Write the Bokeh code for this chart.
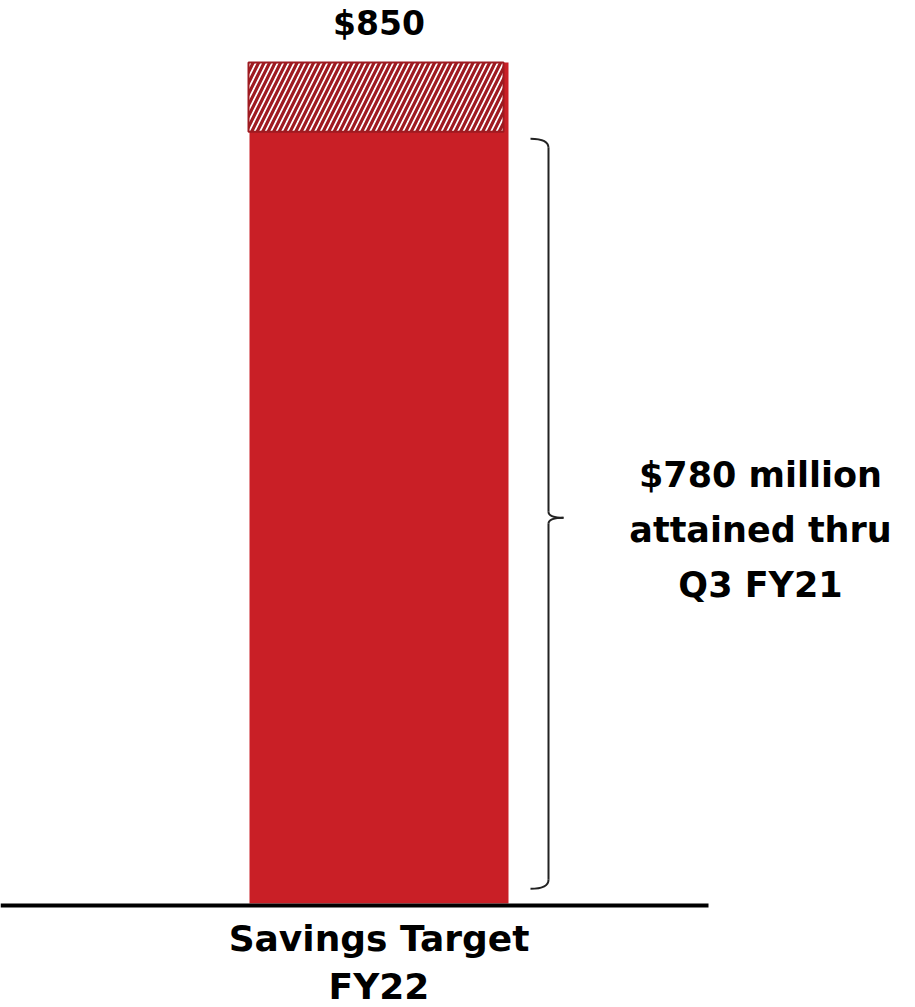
from bokeh.plotting import figure
from bokeh.models import Range1d, ColumnDataSource
from bokeh.embed import file_html
from bokeh.resources import INLINE
from bokeh.core.properties import value

# ---- data ----
categories = ["Savings Target\nFY22"]
target_values = [850]
attained_values = [780]
target_labels = ["$850"]
attained_label = ["$780 million", "attained thru", "Q3 FY21"]

W, H = 915, 1007
# layout (pixels)
BASE_PX, TOP_PX = 903, 62
BAR_CX, BAR_W = 378.5, 259
k = (BASE_PX - TOP_PX) / target_values[0]  # px per unit

def ydat(px):
    return (BASE_PX - px) / k

def xdat(px):
    return (px - BAR_CX) / BAR_W

RED = "#C91F26"
DARK = "#9E1A20"
FONT = value("DejaVu Sans")

p = figure(width=W, height=H, output_backend="svg", toolbar_location=None,
           x_range=Range1d(xdat(0), xdat(W)), y_range=Range1d(ydat(H), ydat(0)),
           min_border=0, min_border_left=0, min_border_right=0,
           min_border_top=0, min_border_bottom=0)
p.axis.visible = False
p.grid.visible = False
p.outline_line_color = None
p.background_fill_color = "white"
p.border_fill_color = "white"

xs = list(range(len(categories)))
label_gap = 39 / k  # gap between bar top and value label centre
src = ColumnDataSource(dict(x=xs, top=target_values, att=attained_values,
                            cat=categories, lab=target_labels,
                            ly=[t + label_gap for t in target_values]))

# solid bar (full target)
p.vbar(x="x", top="top", bottom=0, width=1.0, source=src,
       fill_color=RED, line_color=None)

# hatched remaining part
hsrc = ColumnDataSource(dict(x=[x - 3 / BAR_W for x in xs], top=target_values,
                             bottom=attained_values))
p.vbar(x="x", top="top", bottom="bottom", width=255 / BAR_W, source=hsrc,
       fill_color="white", line_color=DARK, line_width=2,
       hatch_pattern="/", hatch_color=DARK, hatch_scale=11, hatch_weight=3.2)

# baseline
p.segment(x0=[xdat(0)], y0=[ydat(905)], x1=[xdat(708)], y1=[ydat(905)],
          line_color="black", line_width=4)

# value label on top
p.text(x="x", y="ly", text="lab", source=src,
       text_align="center", text_baseline="middle",
       text_font=FONT, text_font_style="bold", text_font_size="33px",
       text_color="black")

# category label (two lines)
for i, line in enumerate(categories[0].split("\n")):
    p.text(x=xs, y=[ydat(938 + 48 * i)], text=[line],
           text_align="center", text_baseline="middle",
           text_font=FONT, text_font_style="bold", text_font_size="36px",
           text_color="black")

# brace spanning 0 .. attained
top_v = attained_values[0] - 7
bot_v = 15
mid_v = attained_values[0] / 2
xl, xv, xt = xdat(530), xdat(548), xdat(563)
dy = 9 / k
BR = "#222222"
p.quadratic(x0=[xl, xl], y0=[top_v, bot_v], x1=[xv, xv], y1=[top_v - dy, bot_v + dy],
            cx=[xv, xv], cy=[top_v, bot_v], line_color=BR, line_width=2)
p.line(x=[xv, xv], y=[top_v - dy, mid_v + 6 / k], line_color=BR, line_width=2)
p.line(x=[xv, xv], y=[mid_v - 6 / k, bot_v + dy], line_color=BR, line_width=2)
p.quadratic(x0=[xv, xv], y0=[mid_v + 6 / k, mid_v - 6 / k], x1=[xt, xt], y1=[mid_v, mid_v],
            cx=[xv, xv], cy=[mid_v, mid_v], line_color=BR, line_width=2)

# attained annotation
for i, line in enumerate(attained_label):
    p.text(x=[xdat(760)], y=[ydat(474 + 55 * i)], text=[line],
           text_align="center", text_baseline="middle",
           text_font=FONT, text_font_style="bold", text_font_size="35px",
           text_color="black")

open("out.html", "w").write(file_html(p, INLINE))
